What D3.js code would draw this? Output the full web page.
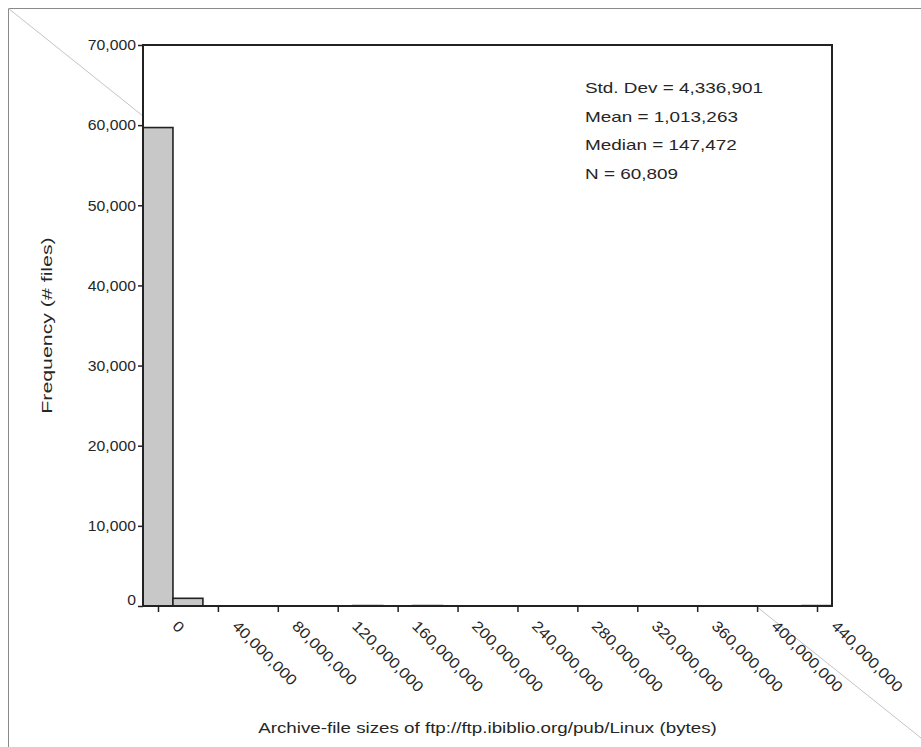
<!DOCTYPE html>
<html>
<head>
<meta charset="utf-8">
<script src="https://cdn.jsdelivr.net/npm/d3@7"></script>
<style>
  html, body { margin: 0; padding: 0; background: #fff; }
  svg text { font-family: "Liberation Sans", Arial, sans-serif; fill: #262626; }
</style>
</head>
<body>
<svg id="chart" width="921" height="747"></svg>
<script>
// ---- data ----
const binCenters = [0, 20000000, 40000000, 60000000, 80000000, 100000000, 120000000,
  140000000, 160000000, 180000000, 200000000, 220000000, 240000000, 260000000,
  280000000, 300000000, 320000000, 340000000, 360000000, 380000000, 400000000,
  420000000, 440000000];
const binCounts = [59700, 960, 0, 0, 0, 0, 0, 50, 0, 50, 0, 0, 0, 0, 0, 0, 0, 0, 0, 0, 0, 0, 49];
const binWidth = 20000000;
const xTickValues = [0, 40000000, 80000000, 120000000, 160000000, 200000000, 240000000,
  280000000, 320000000, 360000000, 400000000, 440000000];
const yTickValues = [0, 10000, 20000, 30000, 40000, 50000, 60000, 70000];
const statsLines = ["Std. Dev = 4,336,901", "Mean = 1,013,263", "Median = 147,472", "N = 60,809"];
const xTitle = "Archive-file sizes of ftp://ftp.ibiblio.org/pub/Linux (bytes)";
const yTitle = "Frequency (# files)";

// ---- layout ----
const W = 921, H = 747;
const plot = { left: 143, right: 832, top: 45, bottom: 606 };
const svg = d3.select("#chart");

const x = d3.scaleLinear().domain([-10000000, 450000000]).range([plot.left, plot.right]);
const y = d3.scaleLinear().domain([0, 70000]).range([plot.bottom, plot.top]);

function stretch(sel, factor) {
  sel.each(function () {
    const len = this.getComputedTextLength();
    d3.select(this).attr("textLength", len * factor).attr("lengthAdjust", "spacingAndGlyphs");
  });
}

// outer frame (top and left edges) and diagonal
svg.append("line").attr("x1", 8.5).attr("y1", 8.5).attr("x2", W).attr("y2", 8.5)
  .attr("stroke", "#8a8a8a").attr("stroke-width", 1);
svg.append("line").attr("x1", 8.5).attr("y1", 8.5).attr("x2", 8.5).attr("y2", H)
  .attr("stroke", "#8a8a8a").attr("stroke-width", 1);
svg.append("line").attr("x1", 8.5).attr("y1", 8.5).attr("x2", W).attr("y2", 738)
  .attr("stroke", "#c4c4c4").attr("stroke-width", 1);

// plot background (covers the diagonal)
svg.append("rect").attr("x", plot.left).attr("y", plot.top)
  .attr("width", plot.right - plot.left).attr("height", plot.bottom - plot.top + 2)
  .attr("fill", "#fff");

// bars
const bars = binCenters.map((c, i) => ({ c, n: binCounts[i] })).filter(d => d.n > 0);
svg.append("g").selectAll("rect").data(bars).join("rect")
  .attr("x", d => x(d.c - binWidth / 2))
  .attr("y", d => y(d.n))
  .attr("width", d => x(d.c + binWidth / 2) - x(d.c - binWidth / 2))
  .attr("height", d => y(0) - y(d.n))
  .attr("fill", "#c8c8c8")
  .attr("stroke", "#222")
  .attr("stroke-width", 1.6);

// frame
svg.append("rect").attr("x", plot.left).attr("y", plot.top)
  .attr("width", plot.right - plot.left).attr("height", plot.bottom - plot.top)
  .attr("fill", "none").attr("stroke", "#222").attr("stroke-width", 2);

// y axis
const yAxis = d3.axisLeft(y).tickValues(yTickValues).tickFormat(d3.format(",")).tickSize(5).tickPadding(2);
const gy = svg.append("g").attr("transform", `translate(${plot.left},0)`).call(yAxis);
gy.select(".domain").remove();
gy.selectAll(".tick line").attr("stroke", "#222").attr("stroke-width", 1.5);
gy.selectAll(".tick text").attr("font-size", 15).attr("font-family", "Liberation Sans, Arial, sans-serif")
  .attr("fill", "#262626").call(stretch, 1.05);
gy.selectAll(".tick text").filter(d => d === 0).attr("y", -6);

// x axis
const xAxis = d3.axisBottom(x).tickValues(xTickValues).tickFormat(d3.format(",")).tickSize(6);
const gx = svg.append("g").attr("transform", `translate(0,${plot.bottom})`).call(xAxis);
gx.select(".domain").remove();
gx.selectAll(".tick line").attr("stroke", "#222").attr("stroke-width", 1.5);
gx.selectAll(".tick text")
  .attr("font-size", 15).attr("font-family", "Liberation Sans, Arial, sans-serif").attr("fill", "#262626")
  .attr("text-anchor", "start")
  .attr("y", null).attr("dy", null)
  .attr("transform", "translate(13,21) rotate(45)")
  .call(stretch, 1.12);

// stats
svg.append("g").selectAll("text").data(statsLines).join("text")
  .attr("x", 585)
  .attr("y", (d, i) => 93 + i * 28.5)
  .attr("font-size", 15)
  .text(d => d)
  .call(stretch, 1.26);

// axis titles
svg.append("text")
  .attr("x", (plot.left + plot.right) / 2).attr("y", 733)
  .attr("text-anchor", "middle").attr("font-size", 15)
  .text(xTitle).call(stretch, 1.25);
svg.append("text")
  .attr("transform", `translate(52,${(plot.top + plot.bottom) / 2}) rotate(-90)`)
  .attr("text-anchor", "middle").attr("font-size", 15)
  .text(yTitle).call(stretch, 1.42);
</script>
</body>
</html>
